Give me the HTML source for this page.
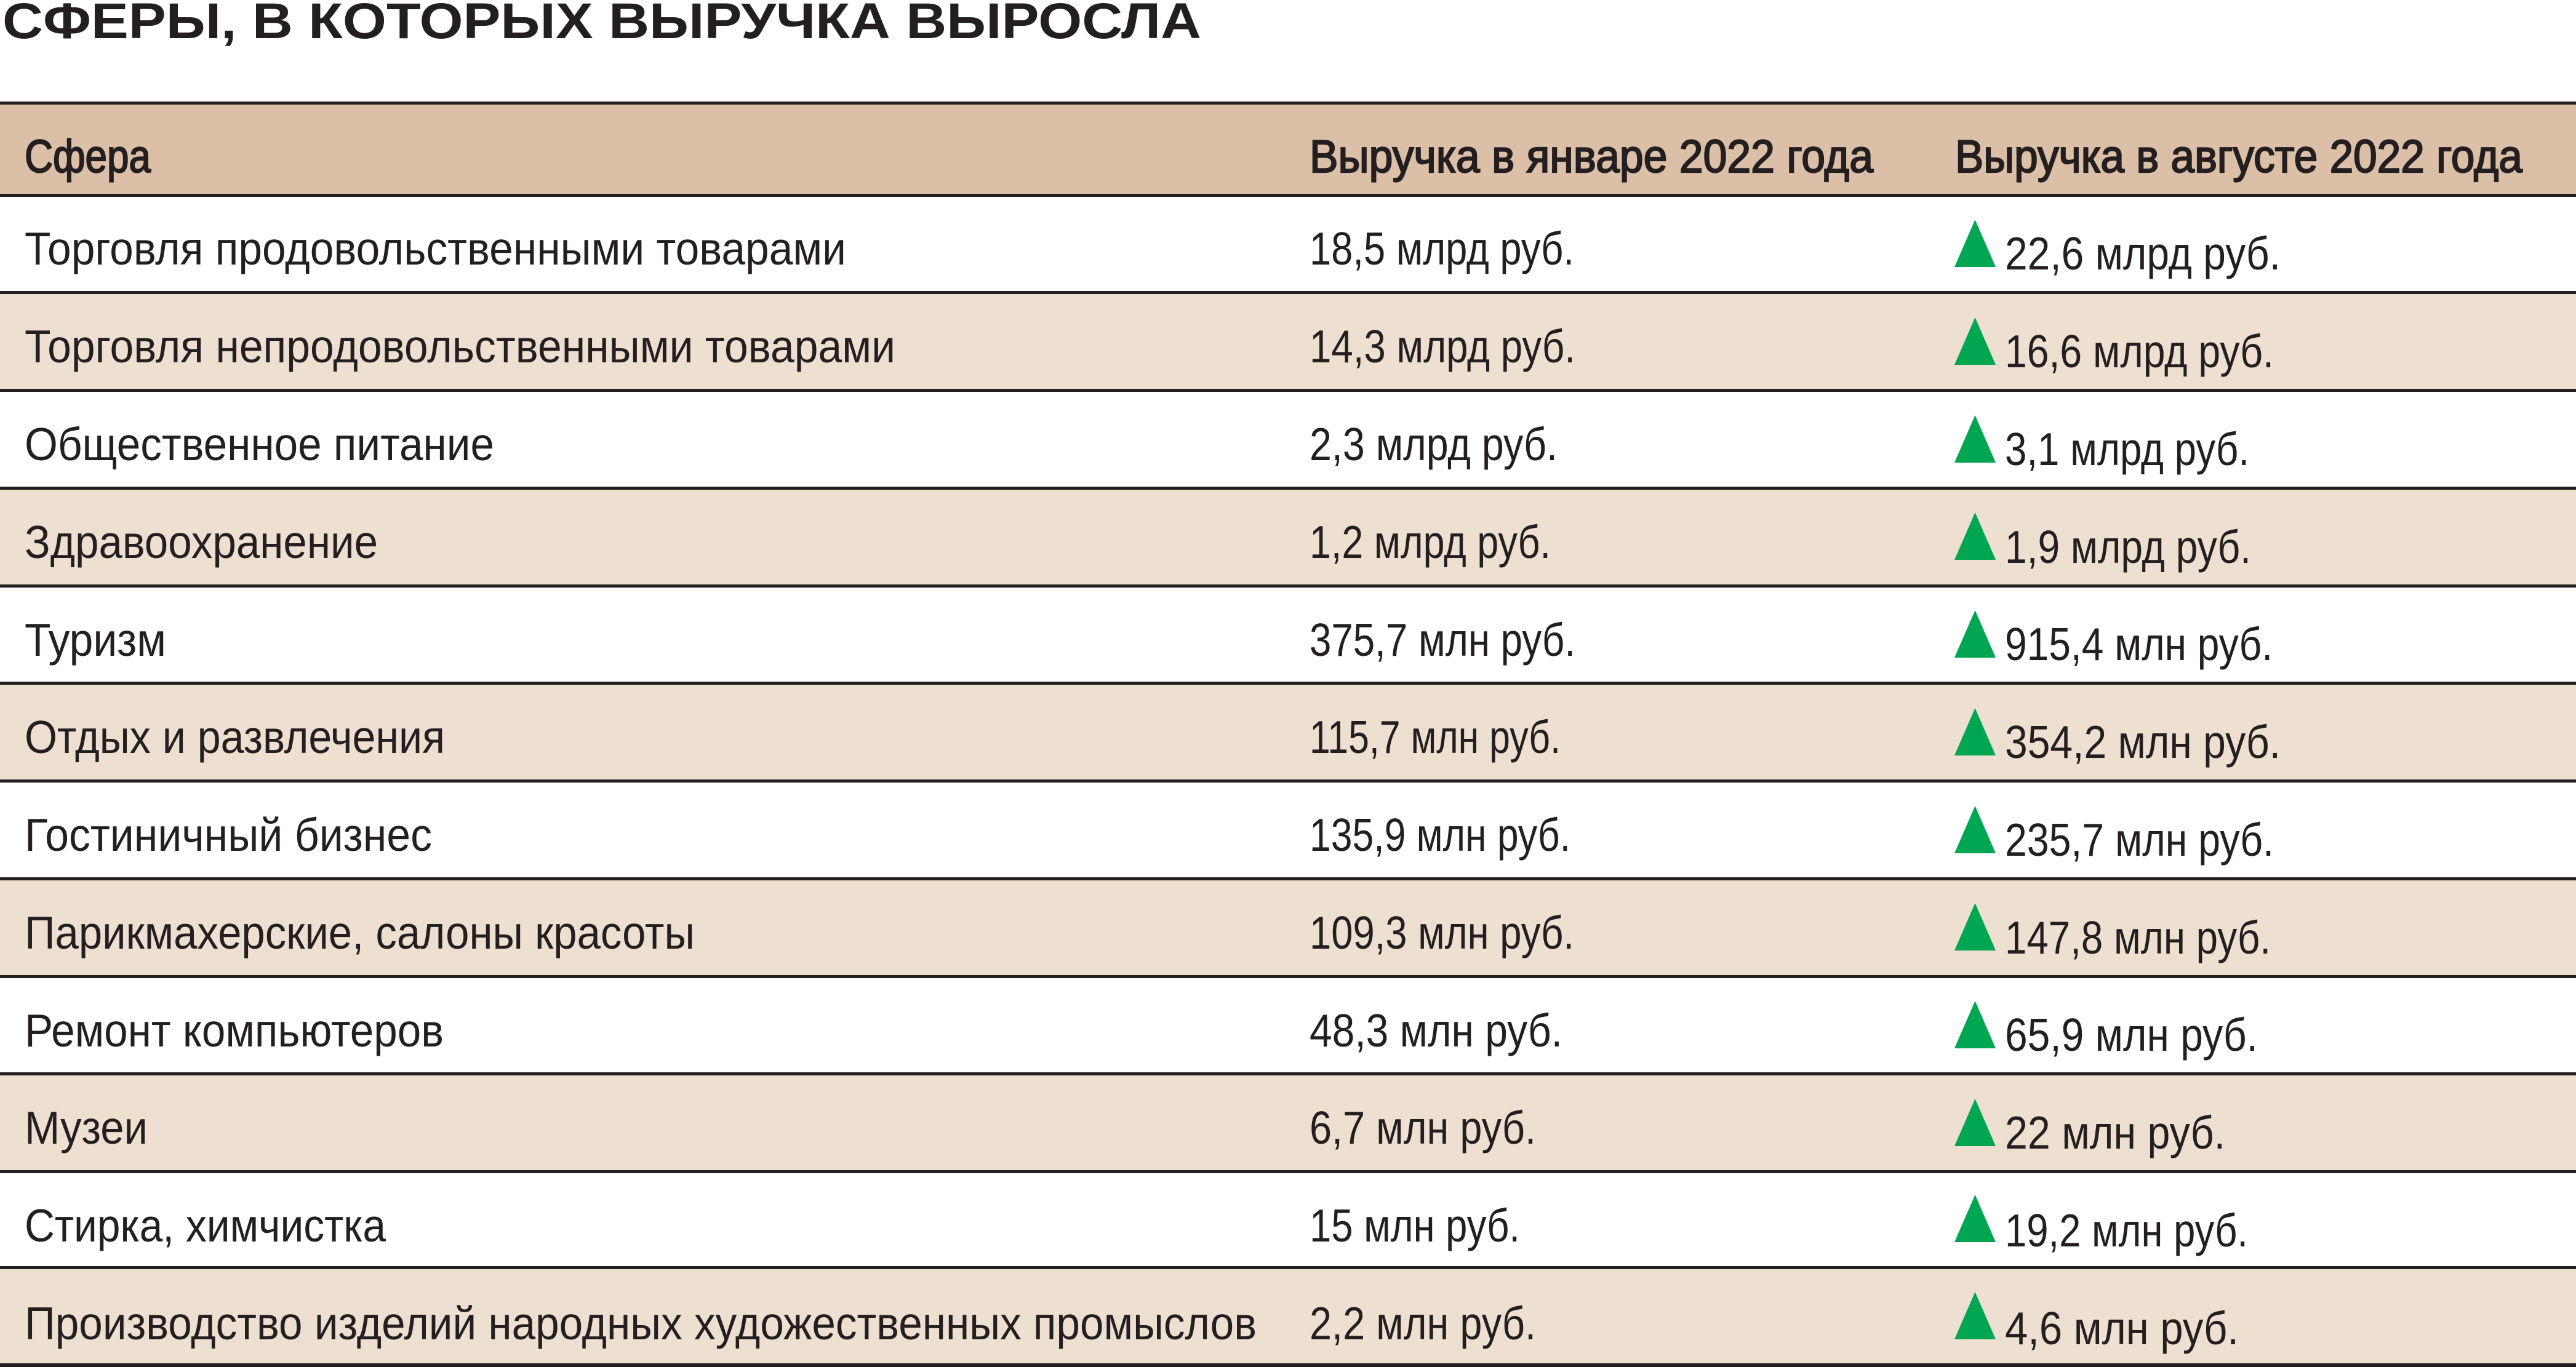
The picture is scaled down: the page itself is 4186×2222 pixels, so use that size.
<!DOCTYPE html>
<html><head><meta charset="utf-8"><style>
html,body{margin:0;padding:0;background:#fff;width:4186px;height:2222px;overflow:hidden}
svg{display:block}
text{font-family:"Liberation Sans","DejaVu Sans",sans-serif;fill:#231f20}
.b{font-size:75px}
.h{font-size:75px;stroke:#231f20;stroke-width:2.2}
</style></head><body>
<svg width="4186" height="2222" viewBox="0 0 4186 2222" xmlns="http://www.w3.org/2000/svg">
<text x="4" y="62" font-size="82" font-weight="bold" textLength="1948" lengthAdjust="spacingAndGlyphs">СФЕРЫ, В КОТОРЫХ ВЫРУЧКА ВЫРОСЛА</text>
<rect x="0" y="168" width="4186" height="149" fill="#dbc0a7"/>
<rect x="0" y="475" width="4186" height="159" fill="#ede0d0"/>
<rect x="0" y="792" width="4186" height="159" fill="#ede0d0"/>
<rect x="0" y="1110" width="4186" height="159" fill="#ede0d0"/>
<rect x="0" y="1427" width="4186" height="159" fill="#ede0d0"/>
<rect x="0" y="1745" width="4186" height="159" fill="#ede0d0"/>
<rect x="0" y="2062" width="4186" height="156" fill="#ede0d0"/>
<g fill="#231f20">
<rect x="0" y="165" width="4186" height="5"/>
<rect x="0" y="315" width="4186" height="5"/>
<rect x="0" y="473" width="4186" height="5"/>
<rect x="0" y="632" width="4186" height="5"/>
<rect x="0" y="791" width="4186" height="5"/>
<rect x="0" y="950" width="4186" height="5"/>
<rect x="0" y="1108" width="4186" height="5"/>
<rect x="0" y="1267" width="4186" height="5"/>
<rect x="0" y="1426" width="4186" height="5"/>
<rect x="0" y="1585" width="4186" height="5"/>
<rect x="0" y="1743" width="4186" height="5"/>
<rect x="0" y="1902" width="4186" height="5"/>
<rect x="0" y="2058" width="4186" height="5"/>
<rect x="0" y="2216" width="4186" height="6"/>
</g>
<text class="h" x="40" y="280" textLength="205" lengthAdjust="spacingAndGlyphs">Сфера</text>
<text class="h" x="2128" y="280" textLength="916" lengthAdjust="spacingAndGlyphs">Выручка в январе 2022 года</text>
<text class="h" x="3177" y="280" textLength="922" lengthAdjust="spacingAndGlyphs">Выручка в августе 2022 года</text>
<g class="b">
<text class="b" x="40" y="430" textLength="1335" lengthAdjust="spacingAndGlyphs">Торговля продовольственными товарами</text>
<text class="b" x="40" y="589" textLength="1415" lengthAdjust="spacingAndGlyphs">Торговля непродовольственными товарами</text>
<text class="b" x="40" y="748" textLength="763" lengthAdjust="spacingAndGlyphs">Общественное питание</text>
<text class="b" x="40" y="907" textLength="574" lengthAdjust="spacingAndGlyphs">Здравоохранение</text>
<text class="b" x="40" y="1066" textLength="230" lengthAdjust="spacingAndGlyphs">Туризм</text>
<text class="b" x="40" y="1224" textLength="683" lengthAdjust="spacingAndGlyphs">Отдых и развлечения</text>
<text class="b" x="40" y="1383" textLength="662" lengthAdjust="spacingAndGlyphs">Гостиничный бизнес</text>
<text class="b" x="40" y="1542" textLength="1089" lengthAdjust="spacingAndGlyphs">Парикмахерские, салоны красоты</text>
<text class="b" x="40" y="1701" textLength="681" lengthAdjust="spacingAndGlyphs">Ремонт компьютеров</text>
<text class="b" x="40" y="1859" textLength="200" lengthAdjust="spacingAndGlyphs">Музеи</text>
<text class="b" x="40" y="2018" textLength="587" lengthAdjust="spacingAndGlyphs">Стирка, химчистка</text>
<text class="b" x="40" y="2177" textLength="2002" lengthAdjust="spacingAndGlyphs">Производство изделий народных художественных промыслов</text>

<text class="b" x="2128" y="430" textLength="430" lengthAdjust="spacingAndGlyphs">18,5 млрд руб.</text>
<text class="b" x="2128" y="589" textLength="432" lengthAdjust="spacingAndGlyphs">14,3 млрд руб.</text>
<text class="b" x="2128" y="748" textLength="403" lengthAdjust="spacingAndGlyphs">2,3 млрд руб.</text>
<text class="b" x="2128" y="907" textLength="392" lengthAdjust="spacingAndGlyphs">1,2 млрд руб.</text>
<text class="b" x="2128" y="1066" textLength="432" lengthAdjust="spacingAndGlyphs">375,7 млн руб.</text>
<text class="b" x="2128" y="1224" textLength="408" lengthAdjust="spacingAndGlyphs">115,7 млн руб.</text>
<text class="b" x="2128" y="1383" textLength="424" lengthAdjust="spacingAndGlyphs">135,9 млн руб.</text>
<text class="b" x="2128" y="1542" textLength="430" lengthAdjust="spacingAndGlyphs">109,3 млн руб.</text>
<text class="b" x="2128" y="1701" textLength="411" lengthAdjust="spacingAndGlyphs">48,3 млн руб.</text>
<text class="b" x="2128" y="1859" textLength="368" lengthAdjust="spacingAndGlyphs">6,7 млн руб.</text>
<text class="b" x="2128" y="2018" textLength="342" lengthAdjust="spacingAndGlyphs">15 млн руб.</text>
<text class="b" x="2128" y="2177" textLength="368" lengthAdjust="spacingAndGlyphs">2,2 млн руб.</text>

<text class="b" x="3258" y="438" textLength="448" lengthAdjust="spacingAndGlyphs">22,6 млрд руб.</text>
<text class="b" x="3258" y="597" textLength="437" lengthAdjust="spacingAndGlyphs">16,6 млрд руб.</text>
<text class="b" x="3258" y="756" textLength="397" lengthAdjust="spacingAndGlyphs">3,1 млрд руб.</text>
<text class="b" x="3258" y="915" textLength="400" lengthAdjust="spacingAndGlyphs">1,9 млрд руб.</text>
<text class="b" x="3258" y="1073" textLength="435" lengthAdjust="spacingAndGlyphs">915,4 млн руб.</text>
<text class="b" x="3258" y="1232" textLength="448" lengthAdjust="spacingAndGlyphs">354,2 млн руб.</text>
<text class="b" x="3258" y="1391" textLength="437" lengthAdjust="spacingAndGlyphs">235,7 млн руб.</text>
<text class="b" x="3258" y="1550" textLength="432" lengthAdjust="spacingAndGlyphs">147,8 млн руб.</text>
<text class="b" x="3258" y="1708" textLength="411" lengthAdjust="spacingAndGlyphs">65,9 млн руб.</text>
<text class="b" x="3258" y="1867" textLength="358" lengthAdjust="spacingAndGlyphs">22 млн руб.</text>
<text class="b" x="3258" y="2026" textLength="395" lengthAdjust="spacingAndGlyphs">19,2 млн руб.</text>
<text class="b" x="3258" y="2185" textLength="380" lengthAdjust="spacingAndGlyphs">4,6 млн руб.</text>
</g>
<g fill="#00a651">
<polygon points="3176,434 3243,434 3209.5,357"/>
<polygon points="3176,593 3243,593 3209.5,516"/>
<polygon points="3176,752 3243,752 3209.5,675"/>
<polygon points="3176,910 3243,910 3209.5,833"/>
<polygon points="3176,1069 3243,1069 3209.5,992"/>
<polygon points="3176,1228 3243,1228 3209.5,1151"/>
<polygon points="3176,1387 3243,1387 3209.5,1310"/>
<polygon points="3176,1545 3243,1545 3209.5,1468"/>
<polygon points="3176,1704 3243,1704 3209.5,1627"/>
<polygon points="3176,1863 3243,1863 3209.5,1786"/>
<polygon points="3176,2019 3243,2019 3209.5,1942"/>
<polygon points="3176,2177 3243,2177 3209.5,2100"/>
</g>
</svg>
</body></html>
